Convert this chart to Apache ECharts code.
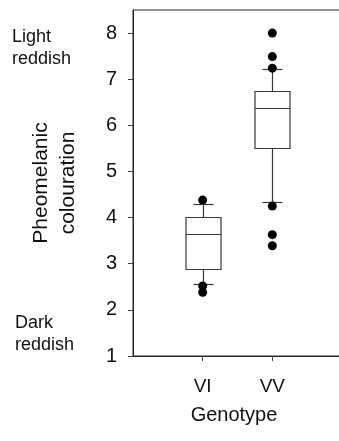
<!DOCTYPE html>
<html>
<head>
<meta charset="utf-8">
<style>
  html, body { margin: 0; padding: 0; background: #fff; }
  #chart { width: 339px; height: 441px; }
</style>
<script src="https://cdn.jsdelivr.net/npm/echarts@6/dist/echarts.min.js"></script>
</head>
<body>
<div id="chart"></div>
<script>
// Category slots: empty slots on either side give the plot its padding
const xSlots = ['', 'VI', 'VV', ''];
const genotypeIndex = [1, 2];

// Box statistics per genotype
const whiskerLow = [2.55, 4.33];
const q1 = [2.89, 5.51];
const median = [3.64, 6.37];
const q3 = [4.01, 6.75];
const whiskerHigh = [4.29, 7.23];

// Outlying points
const outliersVI = [4.38, 2.52, 2.38];
const outliersVV = [8.0, 7.49, 7.24, 4.25, 3.63, 3.39];

const yTicks = [1, 2, 3, 4, 5, 6, 7, 8];

const FONT = "'Liberation Sans', Arial, sans-serif";

const boxData = genotypeIndex.map((x, i) => [x, whiskerLow[i], q1[i], median[i], q3[i], whiskerHigh[i]]);
const outlierData = []
  .concat(outliersVI.map(v => [1, v]))
  .concat(outliersVV.map(v => [2, v]));

const crisp = v => Math.round(v) + 0.5;

function renderBox(params, api) {
  const x = api.value(0);
  const pLow = api.coord([x, api.value(1)]);
  const pQ1 = api.coord([x, api.value(2)]);
  const pMed = api.coord([x, api.value(3)]);
  const pQ3 = api.coord([x, api.value(4)]);
  const pHigh = api.coord([x, api.value(5)]);
  const cx = crisp(pLow[0]);
  const halfBox = 17.5;
  const halfCap = 10;
  const lineStyle = { stroke: '#383838', lineWidth: 1.2, fill: null };
  const line = (x1, y1, x2, y2) => ({
    type: 'line',
    shape: { x1: x1, y1: y1, x2: x2, y2: y2 },
    style: lineStyle
  });
  const yLow = crisp(pLow[1]), yQ1 = crisp(pQ1[1]), yMed = crisp(pMed[1]);
  const yQ3 = crisp(pQ3[1]), yHigh = crisp(pHigh[1]);
  return {
    type: 'group',
    children: [
      line(cx, yQ1, cx, yLow),
      line(cx, yQ3, cx, yHigh),
      line(cx - halfCap, yLow, cx + halfCap, yLow),
      line(cx - halfCap, yHigh, cx + halfCap, yHigh),
      {
        type: 'rect',
        shape: { x: cx - halfBox, y: yQ3, width: halfBox * 2, height: yQ1 - yQ3 },
        style: { stroke: '#383838', lineWidth: 1.2, fill: '#fff' }
      },
      line(cx - halfBox, yMed, cx + halfBox, yMed)
    ]
  };
}

const chart = echarts.init(document.getElementById('chart'), null, { renderer: 'canvas' });

chart.setOption({
  animation: false,
  backgroundColor: '#fff',
  grid: {
    left: 133,
    top: 10,
    width: 209,
    bottom: 85,
    outerBoundsMode: 'none',
    containLabel: false,
    show: true,
    borderColor: '#222',
    borderWidth: 1,
    backgroundColor: 'transparent'
  },
  xAxis: {
    type: 'category',
    data: xSlots,
    boundaryGap: false,
    name: 'Genotype',
    nameLocation: 'middle',
    nameGap: 49,
    nameTextStyle: { fontFamily: FONT, fontSize: 20, color: '#111', padding: [0, 7, 0, 0] },
    axisLine: { lineStyle: { color: '#222', width: 1 } },
    axisTick: {
      show: true,
      length: 5,
      inside: false,
      interval: (idx) => idx === 1 || idx === 2,
      lineStyle: { color: '#444' }
    },
    axisLabel: {
      interval: 0,
      margin: 21,
      fontFamily: FONT,
      fontSize: 19,
      color: '#111'
    },
    splitLine: { show: false }
  },
  yAxis: {
    type: 'value',
    min: 1,
    max: 8.5,
    interval: 1,
    name: 'Pheomelanic\ncolouration',
    nameLocation: 'middle',
    nameRotate: 90,
    nameGap: 51,
    nameTextStyle: { fontFamily: FONT, fontSize: 21, lineHeight: 27, color: '#111' },
    axisLine: { show: true, lineStyle: { color: '#222', width: 1 } },
    axisTick: { show: true, length: 5, customValues: yTicks, lineStyle: { color: '#444' } },
    axisLabel: {
      customValues: yTicks,
      margin: 16,
      fontFamily: FONT,
      fontSize: 20,
      color: '#111'
    },
    splitLine: { show: false }
  },
  graphic: [
    {
      type: 'text',
      left: 12,
      top: 26,
      style: { text: 'Light\nreddish', font: "18px 'Liberation Sans', Arial, sans-serif", lineHeight: 22, fill: '#111' }
    },
    {
      type: 'text',
      left: 15,
      top: 312,
      style: { text: 'Dark\nreddish', font: "18px 'Liberation Sans', Arial, sans-serif", lineHeight: 22, fill: '#111' }
    }
  ],
  series: [
    {
      type: 'custom',
      renderItem: renderBox,
      data: boxData,
      encode: { x: 0, y: [1, 2, 3, 4, 5] },
      z: 2
    },
    {
      type: 'scatter',
      data: outlierData,
      symbol: 'circle',
      symbolSize: 9,
      itemStyle: { color: '#000', opacity: 1 },
      z: 3
    }
  ]
});
</script>
</body>
</html>
